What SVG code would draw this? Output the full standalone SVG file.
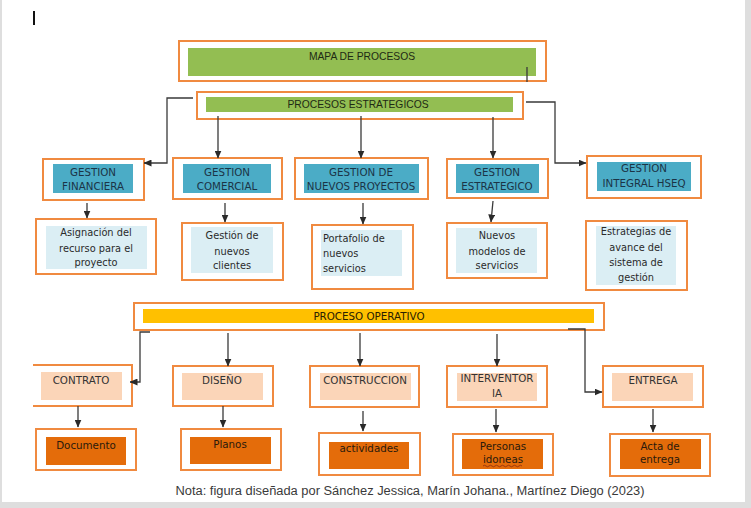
<svg xmlns="http://www.w3.org/2000/svg" width="751" height="508" viewBox="0 0 751 508">
<style>
.o{fill:#fff;stroke:#F08A40;stroke-width:2}
.g{fill:#93BE52}
.t{fill:#4BACC6}
.lb{fill:#DBEEF4}
.y{fill:#FFC000}
.pe{fill:#FBD5B8}
.do{fill:#E46C0A}
.c{fill:none;stroke:#3a3a3a;stroke-width:1.3}
.ca{fill:none;stroke:#3a3a3a;stroke-width:1.3;marker-end:url(#ah)}
text{font-family:"DejaVu Sans",Verdana,sans-serif;text-anchor:middle}
.h{font-family:"Liberation Sans",Arial,sans-serif;font-size:10.3px;fill:#1e2a14}
.tt{font-size:10.3px;fill:#1b3446}
.lt{font-size:9.8px;fill:#2a2a2a}
.pt{font-size:10.3px;fill:#333}
.dt{font-size:10.3px;fill:#2a1a0c}
</style>
<defs>
<marker id="ah" markerUnits="userSpaceOnUse" markerWidth="8" markerHeight="7" refX="7.5" refY="3.5" orient="auto">
<path d="M0,0 L8,3.5 L0,7 z" fill="#2a2a2a"/>
</marker>
</defs>
<rect x="0" y="0" width="751" height="508" fill="#fff"/>
<rect x="0" y="0" width="2" height="508" fill="#dedede"/>
<rect x="745" y="0" width="6" height="508" fill="#dedede"/>
<rect x="0" y="502" width="751" height="6" fill="#dedede"/>
<rect x="33" y="11" width="2" height="14" fill="#111"/>

<g id="mapa"><rect class="o" x="179" y="41" width="367" height="40"/><rect class="g" x="188" y="48" width="348" height="28"/><text class="h" x="362" y="60">MAPA DE PROCESOS</text></g>
<g id="estrategicos"><rect class="o" x="197" y="92" width="326" height="27"/><rect class="g" x="206" y="97" width="307" height="15"/><text class="h" x="358" y="108">PROCESOS ESTRATEGICOS</text></g>

<g id="g-financiera"><rect class="o" x="43" y="159" width="101" height="41"/><rect class="t" x="53" y="164" width="80" height="29"/><text class="tt" x="93" y="176">GESTION</text><text class="tt" x="93" y="190">FINANCIERA</text></g>
<g id="g-comercial"><rect class="o" x="173" y="158" width="109" height="41"/><rect class="t" x="183" y="164" width="88" height="29"/><text class="tt" x="227" y="176">GESTION</text><text class="tt" x="227" y="190">COMERCIAL</text></g>
<g id="g-nuevos"><rect class="o" x="295" y="158" width="133" height="41"/><rect class="t" x="304" y="164" width="115" height="29"/><text class="tt" x="361" y="176">GESTION DE</text><text class="tt" x="361" y="190">NUEVOS PROYECTOS</text></g>
<g id="g-estrategico"><rect class="o" x="447" y="159" width="101" height="39"/><rect class="t" x="456" y="164" width="83" height="29"/><text class="tt" x="497" y="176">GESTION</text><text class="tt" x="497" y="190">ESTRATEGICO</text></g>
<g id="g-hseq"><rect class="o" x="587" y="156" width="114" height="42"/><rect class="t" x="597" y="162" width="94" height="29"/><text class="tt" x="644" y="172">GESTION</text><text class="tt" x="644" y="187">INTEGRAL HSEQ</text></g>

<g id="asignacion"><rect class="o" x="36" y="219" width="120" height="55"/><rect class="lb" x="46" y="226" width="101" height="43"/><text class="lt" x="96" y="236">Asignación del</text><text class="lt" x="96" y="252">recurso para el</text><text class="lt" x="96" y="266">proyecto</text></g>
<g id="clientes"><rect class="o" x="182" y="223" width="101" height="57"/><rect class="lb" x="191" y="227" width="82" height="46"/><text class="lt" x="232" y="239">Gestión de</text><text class="lt" x="232" y="255">nuevos</text><text class="lt" x="232" y="269">clientes</text></g>
<g id="portafolio"><rect class="o" x="312" y="225" width="101" height="64"/><rect class="lb" x="321" y="230" width="81" height="46"/><text class="lt" x="323" y="242" style="text-anchor:start">Portafolio de</text><text class="lt" x="323" y="257" style="text-anchor:start">nuevos</text><text class="lt" x="323" y="272" style="text-anchor:start">servicios</text></g>
<g id="modelos"><rect class="o" x="447" y="223" width="100" height="55"/><rect class="lb" x="456" y="228" width="81" height="45"/><text class="lt" x="497" y="239">Nuevos</text><text class="lt" x="497" y="255">modelos de</text><text class="lt" x="497" y="269">servicios</text></g>
<g id="estrategias"><rect class="o" x="586" y="221" width="101" height="69"/><rect class="lb" x="596" y="226" width="80" height="59"/><text class="lt" x="636" y="235">Estrategias de</text><text class="lt" x="636" y="251">avance del</text><text class="lt" x="636" y="266">sistema de</text><text class="lt" x="636" y="281">gestión</text></g>

<g id="operativo"><rect class="o" x="134" y="303" width="470" height="27"/><rect class="y" x="143" y="309" width="451" height="14"/><text class="pt" x="369" y="320" style="fill:#2a2000">PROCESO OPERATIVO</text></g>

<g id="contrato"><path class="o" d="M33,365 H132 V406 H33"/><rect class="pe" x="41" y="372" width="81" height="28"/><text class="pt" x="81" y="384">CONTRATO</text></g>
<g id="diseno"><rect class="o" x="173" y="366" width="100" height="40"/><rect class="pe" x="182" y="373" width="81" height="27"/><text class="pt" x="222" y="384">DISEÑO</text></g>
<g id="construccion"><rect class="o" x="310" y="366" width="109" height="41"/><rect class="pe" x="320" y="373" width="91" height="27"/><text class="pt" x="365" y="384">CONSTRUCCION</text></g>
<g id="interventoria"><rect class="o" x="447" y="366" width="100" height="41"/><rect class="pe" x="457" y="373" width="80" height="28"/><text class="pt" x="497" y="382">INTERVENTOR</text><text class="pt" x="497" y="397">IA</text></g>
<g id="entrega"><rect class="o" x="603" y="366" width="100" height="41"/><rect class="pe" x="612" y="373" width="81" height="28"/><text class="pt" x="653" y="384">ENTREGA</text></g>

<g id="documento"><rect class="o" x="36" y="429" width="100" height="41"/><rect class="do" x="46" y="437" width="80" height="28"/><text class="dt" x="86" y="449">Documento</text></g>
<g id="planos"><rect class="o" x="181" y="429" width="100" height="41"/><rect class="do" x="190" y="437" width="81" height="27"/><text class="dt" x="230" y="448">Planos</text></g>
<g id="actividades"><rect class="o" x="319" y="433" width="101" height="42"/><rect class="do" x="329" y="442" width="80" height="27"/><text class="dt" x="369" y="452">actividades</text></g>
<g id="personas"><rect class="o" x="453" y="434" width="100" height="41"/><rect class="do" x="462" y="439" width="81" height="30"/><text class="dt" x="503" y="450">Personas</text><text class="dt" x="503" y="463">idoneas</text><path d="M483,466 q1.5,-1.5 3,0 t3,0 t3,0 t3,0 t3,0 t3,0 t3,0 t3,0 t3,0 t3,0 t3,0 t3,0 t3,0" fill="none" stroke="#8a2a10" stroke-width="0.8"/></g>
<g id="acta"><rect class="o" x="610" y="434" width="100" height="42"/><rect class="do" x="620" y="439" width="81" height="30"/><text class="dt" x="660" y="450">Acta de</text><text class="dt" x="660" y="463">entrega</text></g>

<g id="connectors">
<path class="c" d="M527,67 V82"/>
<path class="ca" d="M193,98 H167 V163 H144"/>
<path class="ca" d="M218,116 V158"/>
<path class="ca" d="M361,116 V158"/>
<path class="ca" d="M493,117 V158"/>
<path class="ca" d="M526,102 H555 V163 H586"/>
<path class="ca" d="M87,203 V218"/>
<path class="ca" d="M225,203 V222"/>
<path class="ca" d="M363,203 V224"/>
<path class="ca" d="M493,201 L491,222"/>
<path class="ca" d="M150,332 H140 V382 H130"/>
<path class="ca" d="M228,333 V366"/>
<path class="ca" d="M360,333 V366"/>
<path class="ca" d="M497,334 V366"/>
<path class="ca" d="M568,329 H585 V392 H602"/>
<path class="ca" d="M78,406 V427"/>
<path class="ca" d="M223,406 V427"/>
<path class="ca" d="M363,411 V431"/>
<path class="ca" d="M496,409 V432"/>
<path class="ca" d="M653,409 V432"/>
</g>
<text x="410" y="495" style="font-family:'Liberation Sans',Arial,sans-serif;font-size:12px;fill:#3a3a3a" textLength="469" lengthAdjust="spacingAndGlyphs">Nota: figura diseñada por Sánchez Jessica, Marín Johana., Martínez Diego (2023)</text>
</svg>
